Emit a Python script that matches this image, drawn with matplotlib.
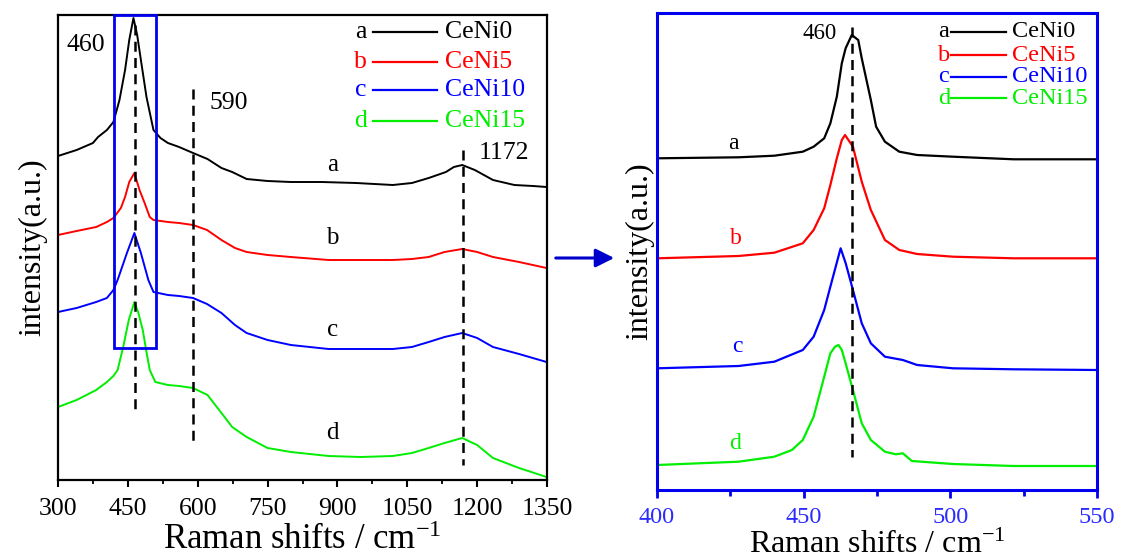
import matplotlib
matplotlib.use("Agg")
import matplotlib.pyplot as plt
from matplotlib.ticker import MultipleLocator
from matplotlib.patches import Rectangle, FancyArrowPatch

plt.rcParams['font.family'] = ['Liberation Serif', 'DejaVu Serif']
plt.rcParams['mathtext.fontset'] = 'custom'
plt.rcParams['mathtext.rm'] = 'Liberation Serif'
plt.rcParams['mathtext.it'] = 'Liberation Serif:italic'

# ---------------- data: left panel (full spectra, offset) ----------------
xa_full = [300, 340, 375, 386, 405, 419, 432, 444, 453, 462, 470, 478, 490, 505, 520, 536, 560,
           590, 621, 651, 674, 705, 750, 800, 866, 940, 1019, 1060, 1096, 1133, 1150, 1168, 1195,
           1234, 1280, 1320, 1349]
ya_full = [324, 330, 337, 343, 350, 358, 380, 410, 440, 462, 445, 420, 383, 350, 342, 337, 333,
           327, 321, 312, 308, 301, 299, 298, 298, 297, 295, 297, 302, 308, 313, 315, 310,
           300, 295, 294, 293]

xb_full = [300, 340, 382, 405, 419, 435, 444, 453, 464, 475, 486, 497, 505, 536, 560, 590, 620,
           651, 680, 705, 750, 800, 881, 950, 1019, 1060, 1096, 1130, 1168, 1200, 1234, 1290, 1349]
yb_full = [245, 249, 253, 258, 262, 272, 283, 298, 307, 290, 277, 263, 260, 258, 257, 255, 250,
           240, 232, 228, 225, 223, 220, 220, 220, 221, 223, 228, 231, 228, 223, 218, 212]

xc_full = [300, 340, 382, 405, 419, 428, 448, 464, 478, 494, 505, 536, 560, 590, 620, 651, 680,
           705, 750, 800, 881, 950, 1019, 1060, 1096, 1130, 1168, 1200, 1234, 1290, 1349]
yc_full = [168, 172, 178, 182, 190, 200, 227, 247, 227, 200, 188, 185, 184, 182, 176, 167, 155,
           147, 140, 135, 131, 131, 131, 133, 138, 143, 147, 142, 133, 126, 118]

xd_full = [300, 340, 382, 405, 419, 428, 440, 452, 464, 472, 482, 490, 497, 509, 536, 560, 590,
           621, 651, 674, 705, 750, 800, 881, 950, 1019, 1060, 1096, 1130, 1168, 1200, 1234, 1290, 1349]
yd_full = [73, 80, 90, 98, 104, 110, 133, 160, 178, 168, 150, 128, 110, 98, 95, 94, 92,
           85, 67, 53, 43, 32, 28, 24, 23, 24, 27, 32, 37, 42, 35, 22, 12, 3]

# ---------------- data: right panel (zoom 400-550) ----------------
xa_zoom = [400, 427.8, 440, 449.7, 453.4, 457, 459.1, 461.3, 463, 464.3, 466.4, 468.6, 469.8,
           472.9, 474.7, 477.7, 482.6, 488.7, 500.9, 521.6, 550]
ya_zoom = [331.7, 332.7, 334.3, 338.3, 343.3, 351.7, 366.7, 393.3, 426.7, 441.7, 455, 450, 431.7,
           390, 363.3, 348.3, 338.3, 335, 333.3, 330.7, 330.7]

xb_zoom = [400, 427.8, 440, 449.7, 453.4, 457, 459.1, 461.3, 463, 464.1, 466.8, 469.8, 472.9,
           477.7, 482.6, 488.7, 500.9, 521.6, 550]
yb_zoom = [231.7, 234, 237.3, 246.7, 260, 281.7, 305, 331.7, 350, 355, 343.3, 308.3, 280,
           250, 240, 236, 233.3, 231.7, 231.7]

xc_zoom = [400, 427.8, 440, 449.7, 453.4, 457, 459.1, 462.6, 464.3, 466.8, 469.8, 472.9, 477.7,
           483.8, 488.7, 500.9, 521.6, 550]
yc_zoom = [121.7, 124, 128.3, 140, 153.3, 180, 203.3, 241.7, 227, 200, 166.7, 146.7, 133.3,
           130, 125, 121.7, 120.7, 120]

xd_zoom = [400, 427.8, 440, 446, 449.7, 453.4, 457, 459.1, 460.7, 461.9, 463, 464.3, 466.8, 469.8,
           472.9, 477.7, 481.4, 483.8, 486.9, 500.9, 521.6, 550]
yd_zoom = [25, 28.3, 33.3, 40, 50, 73.3, 113.3, 136.7, 143.3, 145, 140, 126.7, 100, 66.7,
           50, 38.3, 35.7, 36.7, 29, 26, 24, 24]

letters = ['a', 'b', 'c', 'd']
names = ['CeNi0', 'CeNi5', 'CeNi10', 'CeNi15']
colors = ['#000000', '#ff0000', '#0000ff', '#00ee00']

peak_labels_left = ['460', '590', '1172']
dash_left = [466, 589, 1170]
dash_right = [466.4]
left_xticks = [300, 450, 600, 750, 900, 1050, 1200, 1350]
right_xticks = [400, 450, 500, 550]

BLUE = '#0000ee'
TICKBLUE = '#2a2aff'

fig = plt.figure(figsize=(11.21, 5.60), dpi=100)

# ---------------- left axes ----------------
axL = fig.add_axes([58/1121, 80/560, 489/1121, 465/560])
full = [(xa_full, ya_full), (xb_full, yb_full), (xc_full, yc_full), (xd_full, yd_full)]
for (x, y), c in zip(full, colors):
    axL.plot(x, y, color=c, lw=1.4)
axL.set_xlim(300, 1350)
axL.set_ylim(0, 465)
axL.set_yticks([])
axL.set_xticks(left_xticks)
axL.xaxis.set_minor_locator(MultipleLocator(75))
axL.tick_params(axis='x', which='major', direction='out', length=5, width=1.5,
                labelsize=18.5, pad=8)
axL.tick_params(axis='x', which='minor', direction='out', length=3, width=1.3)
for s in axL.spines.values():
    s.set_linewidth(1.6)
axL.set_xlabel('Raman shifts / cm$^{-1}$', fontsize=25, labelpad=3)
axL.set_ylabel('intensity(a.u.)', fontsize=23, labelpad=8)

# dashed lines
axL.plot([dash_left[0]] * 2, [455, 68], ls=(0, (4, 2.5)), color='k', lw=1.8)
axL.plot([dash_left[1]] * 2, [391, 37], ls=(0, (4, 2.5)), color='k', lw=1.8)
axL.plot([dash_left[2]] * 2, [330, 15], ls=(0, (4, 2.5)), color='k', lw=1.8)

axL.text(359, 435, peak_labels_left[0], fontsize=18.5, ha='center', va='center')
axL.text(666, 377, peak_labels_left[1], fontsize=18.5, ha='center', va='center')
axL.text(1257, 327, peak_labels_left[2], fontsize=18.5, ha='center', va='center')

for lab, yv in zip(letters, [315, 242, 150, 47]):
    axL.text(889, yv, lab, fontsize=18, ha='center', va='center')

# blue box
axL.add_patch(Rectangle((421, 131.7), 89, 465 - 131.7, fill=False, edgecolor=BLUE, lw=2,
                        zorder=5, clip_on=False))

# legend (left)
rows_L = [0.964, 0.900, 0.839, 0.771]
for lab, nm, c, yy in zip(letters, names, colors, rows_L):
    axL.text(0.619, yy, lab, color=c, fontsize=18.5, ha='center', va='center',
             transform=axL.transAxes)
    axL.plot([0.644, 0.776], [yy, yy], color=c, lw=1.6, transform=axL.transAxes)
    axL.text(0.791, yy, nm, color=c, fontsize=18.5, ha='left', va='center',
             transform=axL.transAxes)

# ---------------- right axes ----------------
axR = fig.add_axes([657/1121, 70/560, 440/1121, 477.3/560])
zoom = [(xa_zoom, ya_zoom), (xb_zoom, yb_zoom), (xc_zoom, yc_zoom), (xd_zoom, yd_zoom)]
for (x, y), c in zip(zoom, colors):
    axR.plot(x, y, color=c, lw=1.6)
axR.set_xlim(400, 550)
axR.set_ylim(0, 477.3)
axR.set_yticks([])
axR.set_xticks(right_xticks)
axR.xaxis.set_minor_locator(MultipleLocator(25))
axR.tick_params(axis='x', which='major', direction='out', length=6, width=2,
                labelsize=17.5, labelcolor=TICKBLUE, color=BLUE, pad=6)
axR.tick_params(axis='x', which='minor', direction='out', length=4, width=2, color=BLUE)
for s in axR.spines.values():
    s.set_linewidth(2.2)
    s.set_color(BLUE)
axR.set_xlabel('Raman shifts / cm$^{-1}$', fontsize=23, labelpad=2)
axR.set_ylabel('intensity(a.u.)', fontsize=23, labelpad=2)

axR.plot([dash_right[0]] * 2, [463, 33], ls=(0, (4, 2.5)), color='k', lw=1.8)
axR.text(461.3, 456.7, '460', fontsize=16.5, ha='right', va='center')
for lab, c, xv, yv in zip(letters, colors, [426, 426.8, 427.4, 426.5], [346.7, 251.7, 143.3, 46.7]):
    axR.text(xv, yv, lab, color=c, fontsize=17, ha='center', va='center')

rows_R = [0.960, 0.911, 0.866, 0.821]
for lab, nm, c, yy in zip(letters, names, colors, rows_R):
    axR.text(0.652, yy, lab, color=c, fontsize=17.5, ha='center', va='center',
             transform=axR.transAxes)
    axR.plot([0.668, 0.794], [yy, yy], color=c, lw=1.6, transform=axR.transAxes)
    axR.text(0.806, yy, nm, color=c, fontsize=17.5, ha='left', va='center',
             transform=axR.transAxes)

# arrow between panels
fig.add_artist(FancyArrowPatch((553/1121, 1 - 258/560), (617/1121, 1 - 258/560),
                               transform=fig.transFigure, arrowstyle='-|>',
                               mutation_scale=28, color='#0000cc', lw=2.2))

fig.savefig('out.png', dpi=100)
